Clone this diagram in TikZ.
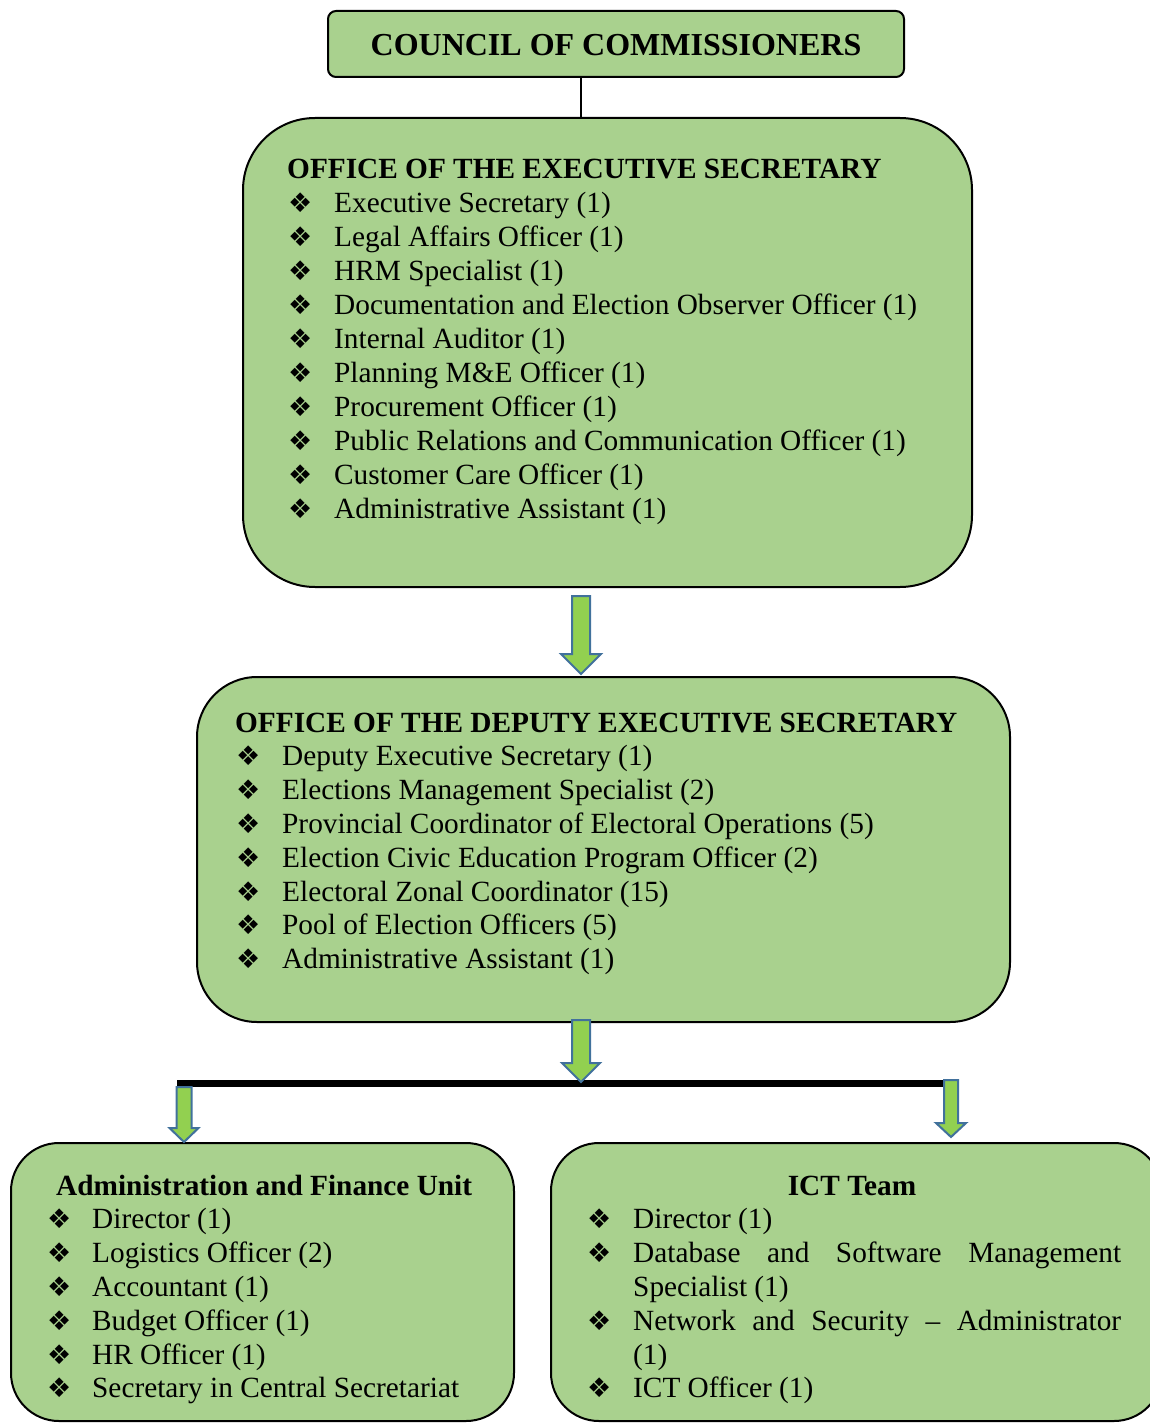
\documentclass[tikz,border=0pt]{standalone}
\usepackage{fontspec}
\setmainfont{Liberation Serif}
\newfontfamily\dingfont{DejaVu Sans}
\usetikzlibrary{calc,positioning}

\definecolor{boxgreen}{HTML}{A9D18E}
\definecolor{arrowgreen}{HTML}{92D050}
\definecolor{arrowblue}{HTML}{41719C}

\newcommand{\bul}{{\dingfont\fontsize{27}{27}\selectfont ❖}}
% block arrow from #1 (top) to #2 (tip): shaft half, head half, head length
\newcommand{\blockdown}[5]{%
  \draw[blockarrow] ($(#1)+(-#3,0)$) -- ($(#1)+(#3,0)$) -- ($(#2)+(#3,-#5)$)
    -- ($(#2)+(#4,-#5)$) -- (#2) -- ($(#2)+(-#4,-#5)$) -- ($(#2)+(-#3,-#5)$) -- cycle;}

\tikzset{
  unit/.style={draw=black, line width=2pt, fill=boxgreen, inner sep=0pt},
  entry/.style={anchor=base west, inner sep=0pt, font=\fontsize{29.3}{34}\selectfont},
  head/.style={entry, font=\fontsize{29.3}{34}\selectfont\bfseries},
  blockarrow/.style={draw=arrowblue, line width=2pt, fill=arrowgreen, line join=miter},
}

\begin{document}
\begin{tikzpicture}[x=1pt,y=-1pt]
    \useasboundingbox (0,0) rectangle (1150,1423);
    % boxes
    \node[unit, rounded corners=8pt, minimum width=576pt, minimum height=66pt] (council) at (616,44) {};
    \node[unit, rounded corners=72pt, minimum width=729pt, minimum height=469pt] (es) at (607.5,352.5) {};
    \node[unit, rounded corners=60pt, minimum width=813pt, minimum height=345pt] (des) at (603.5,849.5) {};
    \node[unit, rounded corners=48pt, minimum width=503pt, minimum height=278pt] (afu) at (262.5,1282) {};
    \node[unit, rounded corners=48pt, minimum width=611pt, minimum height=278pt] (ict) at (856.5,1282) {};
    \node[font=\fontsize{32}{36}\selectfont\bfseries] (counciltxt) at (616,45) {COUNCIL OF COMMISSIONERS};
    \coordinate (spine) at (581,0);
    \draw[line width=1.5pt] (council.south -| spine) -- (es.north -| spine);

    % executive secretary
    \node[head] (eshead) at (287,179) {OFFICE OF THE EXECUTIVE SECRETARY};
    \foreach \txt [count=\i] in {Executive Secretary (1), Legal Affairs Officer (1),
        HRM Specialist (1), Documentation and Election Observer Officer (1),
        Internal Auditor (1), Planning M\&E Officer (1), Procurement Officer (1),
        Public Relations and Communication Officer (1), Customer Care Officer (1),
        Administrative Assistant (1)} {
      \node[entry] (esb\i) at (288,179+33.9*\i) {\bul};
      \node[entry] (es\i) at (334,179+33.9*\i) {\txt};
    }

    % deputy executive secretary
    \node[head] (deshead) at (235,732) {OFFICE OF THE DEPUTY EXECUTIVE SECRETARY};
    \foreach \txt [count=\i] in {Deputy Executive Secretary (1), Elections Management Specialist (2),
        Provincial Coordinator of Electoral Operations (5), Election Civic Education Program Officer (2),
        Electoral Zonal Coordinator (15), Pool of Election Officers (5), Administrative Assistant (1)} {
      \node[entry] (desb\i) at (236,732+33.8*\i) {\bul};
      \node[entry] (des\i) at (282,732+33.8*\i) {\txt};
    }

    % administration and finance
    \node[head] (afuhead) at (56,1195) {Administration and Finance Unit};
    \foreach \txt [count=\i] in {Director (1), Logistics Officer (2), Accountant (1),
        Budget Officer (1), HR Officer (1), Secretary in Central Secretariat} {
      \node[entry] (afub\i) at (47,1195+33.8*\i) {\bul};
      \node[entry] (afu\i) at (92,1195+33.8*\i) {\txt};
    }

    % ict team
    \node[head, anchor=base] (icthead) at (852,1195) {ICT Team};
    \node[entry] (ictb1) at (587,1228.8) {\bul};
    \node[entry] (ict1) at (633,1228.8) {Director (1)};
    \node[entry] (ictb2) at (587,1262.6) {\bul};
    \node[entry] (ict2) at (633,1262.6) {\makebox[488pt][s]{Database and Software Management}};
    \node[entry] (ict3) at (633,1296.4) {Specialist (1)};
    \node[entry] (ictb4) at (587,1330.2) {\bul};
    \node[entry] (ict4) at (633,1330.2) {\makebox[488pt][s]{Network and Security – Administrator}};
    \node[entry] (ict5) at (633,1364) {(1)};
    \node[entry] (ictb6) at (587,1397.8) {\bul};
    \node[entry] (ict6) at (633,1397.8) {ICT Officer (1)};

    % arrows
    \coordinate (a1s) at ($(es.south -| spine)+(0,8)$);
    \coordinate (a1e) at ($(des.north -| spine)+(0,-2)$);
    \blockdown{a1s}{a1e}{9}{20}{20}
    \coordinate (barL) at (177,1083.5);
    \coordinate (barR) at (958,1083.5);
    \draw[line width=7.5pt] (barL) -- (barR);
    \coordinate (a2s) at ($(des.south -| spine)+(0,-3)$);
    \coordinate (a2e) at (spine |- 0,1082);
    \blockdown{a2s}{a2e}{9}{19}{19}
    \coordinate (a3s) at (184,1087);
    \coordinate (a3e) at (afu.north -| a3s);
    \blockdown{a3s}{a3e}{7.5}{14.5}{14}
    \coordinate (a4s) at (951,1080);
    \coordinate (a4e) at (951,1137);
    \blockdown{a4s}{a4e}{7}{15}{14}
\end{tikzpicture}
\end{document}
